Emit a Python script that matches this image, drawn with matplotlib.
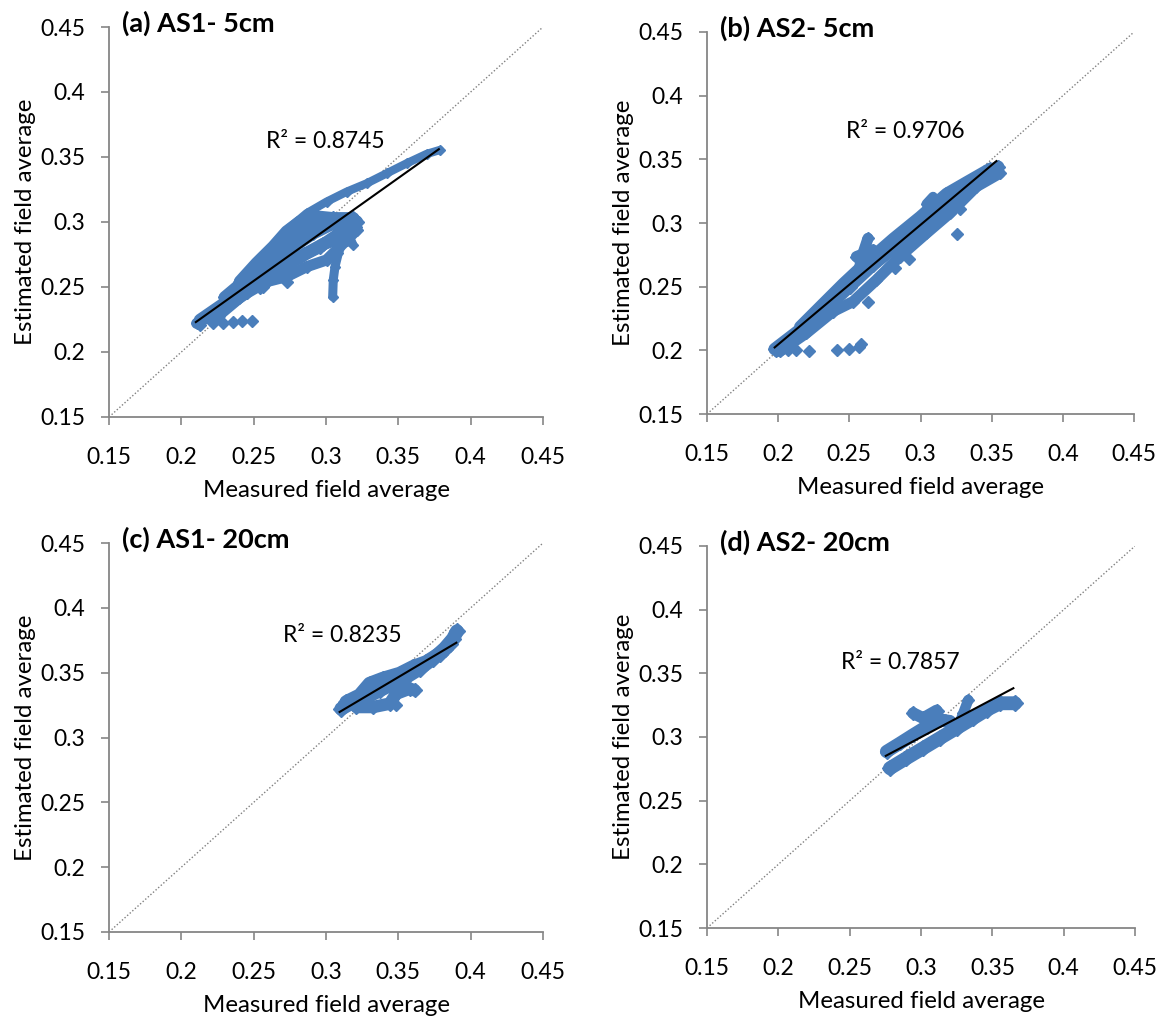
import matplotlib
matplotlib.use("Agg")
import matplotlib.pyplot as plt

plt.rcParams['font.family'] = ['Lato', 'DejaVu Sans']

BLUE = '#4a7ebb'
GREY = '#868686'

ticks = [0.15, 0.2, 0.25, 0.3, 0.35, 0.4, 0.45]
tick_labels = ['0.15', '0.2', '0.25', '0.3', '0.35', '0.4', '0.45']

titles = ['(a) AS1- 5cm', '(b) AS2- 5cm', '(c) AS1- 20cm', '(d) AS2- 20cm']
r2_labels = ['R² = 0.8745', 'R² = 0.9706', 'R² = 0.8235', 'R² = 0.7857']
r2_x = [0.2993, 0.2891, 0.3110, 0.2852]
r2_y = [0.3623, 0.3715, 0.3790, 0.3582]

# trend line ends
trend_x = [[0.210, 0.378], [0.1975, 0.3533], [0.3094, 0.3901], [0.2753, 0.3647]]
trend_y = [[0.223, 0.356], [0.2023, 0.3486], [0.3197, 0.3731], [0.2852, 0.3383]]

# (a) AS1 5cm - dense strands of the point cloud
a_top_x = [0.2405, 0.2520, 0.2636, 0.2728, 0.2820, 0.2935, 0.3050, 0.3189]
a_top_y = [0.2541, 0.2682, 0.2810, 0.2926, 0.3003, 0.3041, 0.3028, 0.3028]
a_upmid_x = [0.2300, 0.2450, 0.2590, 0.2730, 0.2870, 0.3000, 0.3150]
a_upmid_y = [0.2420, 0.2560, 0.2720, 0.2850, 0.2960, 0.3010, 0.3010]
a_mid_x = [0.2129, 0.2313, 0.2474, 0.2636, 0.2774, 0.2912, 0.3050, 0.3212]
a_mid_y = [0.2246, 0.2387, 0.2528, 0.2682, 0.2810, 0.2913, 0.2990, 0.3003]
a_lowmid_x = [0.2250, 0.2400, 0.2550, 0.2700, 0.2850, 0.2980, 0.3150, 0.3200]
a_lowmid_y = [0.2280, 0.2420, 0.2560, 0.2660, 0.2750, 0.2830, 0.2900, 0.2960]
a_low_x = [0.2106, 0.2313, 0.2451, 0.2590, 0.2728, 0.2866, 0.3004, 0.3143, 0.3212]
a_low_y = [0.2220, 0.2349, 0.2451, 0.2541, 0.2580, 0.2656, 0.2708, 0.2862, 0.2938]
a_inner_x = [0.2544, 0.2682, 0.2820, 0.2958, 0.3096]
a_inner_y = [0.2503, 0.2631, 0.2733, 0.2810, 0.2913]
a_arm_x = [0.2728, 0.2866, 0.3004, 0.3143, 0.3281, 0.3419, 0.3557, 0.3695, 0.3787]
a_arm_y = [0.2938, 0.3067, 0.3156, 0.3233, 0.3297, 0.3374, 0.3451, 0.3523, 0.3554]
a_leg_x = [0.3154, 0.3119, 0.3085, 0.3062, 0.3050, 0.3046]
a_leg_y = [0.2938, 0.2862, 0.2759, 0.2656, 0.2554, 0.2426]
a_spur_x = [0.3143, 0.3189]
a_spur_y = [0.2938, 0.2823]
a_out_x = [0.2129, 0.2221, 0.2290, 0.2359, 0.2417, 0.2486, 0.2567, 0.2728]
a_out_y = [0.2208, 0.2226, 0.2220, 0.2233, 0.2241, 0.2241, 0.2503, 0.2541]

# (b) AS2 5cm
b_mid_x = [0.1975, 0.2151, 0.2338, 0.2502, 0.2666, 0.2854, 0.3041, 0.3228, 0.3392, 0.3545]
b_mid_y = [0.2010, 0.2161, 0.2331, 0.2501, 0.2671, 0.2841, 0.3024, 0.3207, 0.3351, 0.3442]
b_low_x = [0.2011, 0.2198, 0.2385, 0.2526, 0.2690, 0.2854, 0.3041, 0.3205, 0.3392, 0.3556]
b_low_y = [0.1991, 0.2135, 0.2305, 0.2383, 0.2553, 0.2736, 0.2919, 0.3076, 0.3285, 0.3390]
b_top_x = [0.2151, 0.2315, 0.2456, 0.2619, 0.2807, 0.2994, 0.3181, 0.3322, 0.3486]
b_top_y = [0.2187, 0.2370, 0.2527, 0.2697, 0.2880, 0.3050, 0.3233, 0.3324, 0.3429]
b_spur_x = [0.2573, 0.2596, 0.2631]
b_spur_y = [0.2658, 0.2762, 0.2880]
b_spur2_x = [0.2549, 0.2666]
b_spur2_y = [0.2736, 0.2789]
b_bump_x = [0.3041, 0.3088]
b_bump_y = [0.3150, 0.3207]
b_out_x = [0.1987, 0.2069, 0.2128, 0.2214, 0.2416, 0.2498, 0.2568, 0.2580,
           0.2631, 0.2818, 0.2919, 0.3259, 0.3275]
b_out_y = [0.1991, 0.2004, 0.1999, 0.1997, 0.1999, 0.2010, 0.2025, 0.2049,
           0.2381, 0.2645, 0.2718, 0.2911, 0.3110]

# (c) AS1 20cm
c_low_x = [0.3106, 0.3187, 0.3279, 0.3371, 0.3463, 0.3555, 0.3647, 0.3740, 0.3820, 0.3878, 0.3905]
c_low_y = [0.3222, 0.3274, 0.3312, 0.3364, 0.3415, 0.3467, 0.3531, 0.3608, 0.3685, 0.3762, 0.3819]
c_top_x = [0.3141, 0.3233, 0.3302, 0.3394, 0.3509, 0.3601, 0.3693, 0.3786, 0.3855]
c_top_y = [0.3274, 0.3325, 0.3415, 0.3454, 0.3492, 0.3544, 0.3582, 0.3647, 0.3724]
c_lobe_x = [0.3210, 0.3325, 0.3440, 0.3486, 0.3578, 0.3613]
c_lobe_y = [0.3235, 0.3235, 0.3261, 0.3338, 0.3377, 0.3364]
c_out_x = [0.3486]
c_out_y = [0.3248]

# (d) AS2 20cm
d_low_x = [0.2782, 0.2898, 0.3015, 0.3132, 0.3249, 0.3366, 0.3460, 0.3553, 0.3659]
d_low_y = [0.2755, 0.2834, 0.2912, 0.2991, 0.3069, 0.3148, 0.3213, 0.3265, 0.3265]
d_top_x = [0.2758, 0.2852, 0.2945, 0.3039, 0.3132, 0.3202]
d_top_y = [0.2886, 0.2951, 0.3017, 0.3082, 0.3134, 0.3121]
d_arm_x = [0.2945, 0.3015, 0.3109]
d_arm_y = [0.3187, 0.3148, 0.3208]
d_spike_x = [0.3261, 0.3296, 0.3331]
d_spike_y = [0.3082, 0.3187, 0.3291]

# (x, y, band width in points)
panel_strands = [
    [(a_top_x, a_top_y, 9), (a_upmid_x, a_upmid_y, 9), (a_mid_x, a_mid_y, 9),
     (a_lowmid_x, a_lowmid_y, 9), (a_low_x, a_low_y, 8), (a_inner_x, a_inner_y, 9),
     (a_arm_x, a_arm_y, 6), (a_leg_x, a_leg_y, 6.5), (a_spur_x, a_spur_y, 6)],
    [(b_mid_x, b_mid_y, 9), (b_low_x, b_low_y, 8), (b_top_x, b_top_y, 8),
     (b_spur_x, b_spur_y, 8), (b_spur2_x, b_spur2_y, 8), (b_bump_x, b_bump_y, 7)],
    [(c_low_x, c_low_y, 10), (c_top_x, c_top_y, 10), (c_lobe_x, c_lobe_y, 9)],
    [(d_low_x, d_low_y, 10), (d_top_x, d_top_y, 9.5), (d_arm_x, d_arm_y, 8.5),
     (d_spike_x, d_spike_y, 7.5)],
]
panel_outliers = [(a_out_x, a_out_y), (b_out_x, b_out_y), (c_out_x, c_out_y), ([], [])]

# axes rectangles in figure fractions
rects = [
    [0.0936, 0.5908, 0.3725, 0.3827],
    [0.6069, 0.5937, 0.3665, 0.3749],
    [0.0936, 0.0854, 0.3725, 0.3817],
    [0.6069, 0.0893, 0.3674, 0.3749],
]

fig = plt.figure(figsize=(11.65, 10.19), dpi=100)

for i in range(4):
    ax = fig.add_axes(rects[i])
    ax.set_xlim(0.15, 0.45)
    ax.set_ylim(0.15, 0.45)

    # 1:1 line
    ax.plot([0.15, 0.45], [0.15, 0.45], color='#808080', lw=1,
            linestyle=(0, (1, 1.5)), zorder=1)

    for xs, ys, w in panel_strands[i]:
        ax.plot(xs, ys, color=BLUE, lw=w, marker='D', ms=w * 0.8,
                solid_capstyle='round', solid_joinstyle='round', zorder=2)
    ox, oy = panel_outliers[i]
    ax.plot(ox, oy, 'D', color=BLUE, ms=6.5, ls='none', zorder=2)

    ax.plot(trend_x[i], trend_y[i], color='black', lw=1.5, zorder=3)

    ax.text(r2_x[i], r2_y[i], r2_labels[i], fontsize=16.5, ha='center', va='center')

    ax.set_xticks(ticks)
    ax.set_xticklabels(tick_labels)
    ax.set_yticks(ticks)
    ax.set_yticklabels(tick_labels)
    ax.tick_params(direction='out', length=6, width=1.2, color=GREY,
                   labelsize=16.5)
    ax.tick_params(axis='x', pad=15.5)
    ax.tick_params(axis='y', pad=11)
    for s in ['top', 'right']:
        ax.spines[s].set_visible(False)
    for s in ['left', 'bottom']:
        ax.spines[s].set_color(GREY)
        ax.spines[s].set_linewidth(1.3)

    ax.set_xlabel('Measured field average', fontsize=17.3, labelpad=9)
    ax.set_ylabel('Estimated field average', fontsize=17.3, labelpad=3)

    ax.text(0.03, 1.01, titles[i], transform=ax.transAxes, fontsize=19.5,
            fontweight='bold', ha='left', va='center')

fig.savefig('out.png', dpi=100)
